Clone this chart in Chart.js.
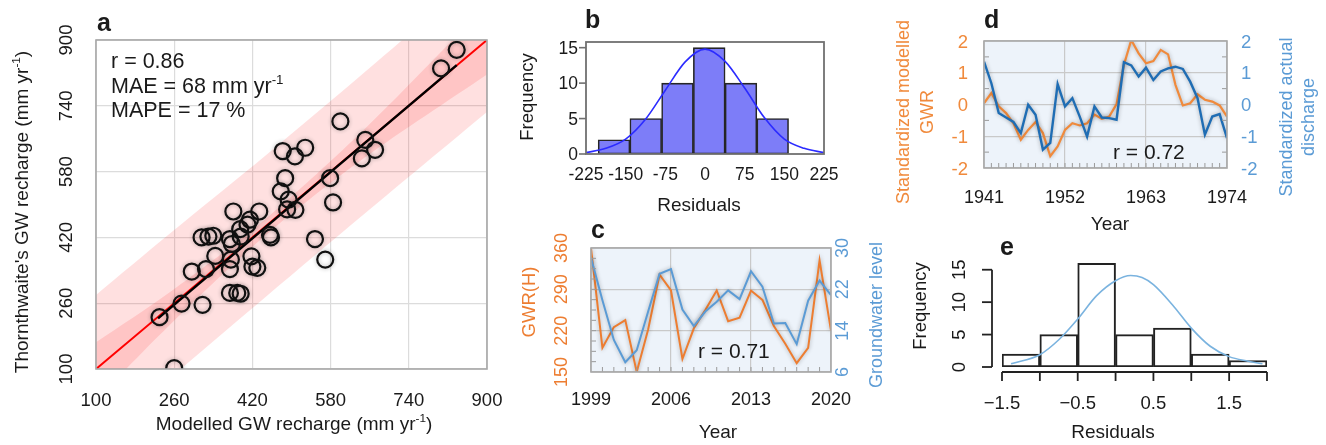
<!DOCTYPE html>
<html>
<head>
<meta charset="utf-8">
<script src="https://cdn.jsdelivr.net/npm/chart.js@4.4.1/dist/chart.umd.min.js"></script>
<style>
  body { margin: 0; background: #fff; }
  #wrap { position: relative; width: 1326px; height: 445px; }
  canvas { position: absolute; left: 0; top: 0; }
</style>
</head>
<body>
<div id="wrap">
  <canvas id="ca" width="1326" height="445"></canvas>
  <canvas id="cb" width="1326" height="445"></canvas>
  <canvas id="cc" width="1326" height="445"></canvas>
  <canvas id="cd" width="1326" height="445"></canvas>
  <canvas id="ce" width="1326" height="445"></canvas>
</div>
<script>
// panel a
const modelled = [838,806,600,651,671,644,528,482,507,487,478,579,585,494,508,491,434,381,415,410,395,396,374,378,456,458,316,330,340,344,296,325,374,376,418,420,430,374,389,396,275,318,230,260,548,569];
const thornthwaite = [876,831,702,657,633,612,638,630,617,564,532,564,505,512,487,488,483,483,463,451,440,422,416,404,426,420,420,422,424,375,337,343,343,366,374,349,346,285,285,283,259,256,226,102,416,366];
const fitX = [227, 838];
const fitY = [223, 839];
const bandX = [100, 250, 450, 650, 900];
const outerHi = [280, 428, 622, 822, 1078];
const outerLo = [-80, 76, 278, 478, 725];
const innerHi = [165, 286, 468, 684, 986];
const innerLo = [25, 206, 428, 614, 816];
const ticksA = [100, 260, 420, 580, 740, 900];

// panel b
const binsB = [-172, -112, -52, 8, 68, 128];
const freqB = [2, 5, 10, 15, 10, 5];
const curveBX = [-225,-187.5,-150,-112.5,-75,-37.5,0,37.5,75,112.5,150,187.5,225];
const curveBY = [0.2,0.8,2.1,4.9,9.0,13.0,14.8,13.1,9.3,5.1,2.1,0.8,0.2];
const ticksBX = [-225, -150, -75, 0, 75, 150, 225];
const ticksBY = [0, 5, 10, 15];

// panel c
const yearsC = [1999,2000,2001,2002,2003,2004,2005,2006,2007,2008,2009,2010,2011,2012,2013,2014,2015,2016,2017,2018,2019,2020];
const gwrH = [360,191,226,238,150,222,315,288,172,224,255,288,236,242,288,272,228,198,165,191,339,220];
const gwLevel = [28.1,19.9,12.2,7.9,10.2,17.7,25.0,25.9,18.1,14.9,17.7,19.6,21.8,20.1,25.5,22.5,15.4,15.5,11.4,19.8,23.7,20.9];
const ticksCX = [1999, 2006, 2013, 2020];
const ticksCL = [150, 220, 290, 360];
const ticksCR = [6, 14, 22, 30];

// panel d
const yearsD = [1941,1942,1943,1944,1945,1946,1947,1948,1949,1950,1951,1952,1953,1954,1955,1956,1957,1958,1959,1960,1961,1962,1963,1964,1965,1966,1967,1968,1969,1970,1971,1972,1973,1974];
const stdGwr = [0.04,0.36,-0.06,-0.27,-0.59,-1.11,-0.80,-0.55,-0.90,-1.63,-1.32,-0.80,-0.59,-0.66,-0.59,-0.32,-0.45,-0.38,0.01,1.25,2.03,1.61,1.30,1.37,1.72,1.58,0.62,-0.03,0.04,0.32,0.15,0.09,-0.03,-0.38];
const stdDischarge = [1.35,0.67,-0.27,-0.41,-0.55,-0.90,-0.01,-0.32,-1.42,-1.21,0.64,-0.06,0.20,-0.38,-1.01,-0.06,-0.41,-0.43,-0.48,1.33,1.23,0.88,1.16,0.77,1.04,1.14,1.19,1.12,0.72,0.20,-0.95,-0.38,-0.30,-1.06];
const ticksDX = [1941, 1952, 1963, 1974];
const ticksDY = [-2, -1, 0, 1, 2];

// panel e
const binsE = [-1.25, -0.75, -0.25, 0.25, 0.75, 1.25, 1.75];
const freqE = [2, 5, 16, 5, 6, 2, 1];
const curveEX = [-1.38,-1.0,-0.75,-0.5,-0.25,0,0.2,0.35,0.5,0.75,1.0,1.25,1.5,1.75,1.94];
const curveEY = [0.5,1.9,4.2,7.4,11.0,13.3,14.1,13.8,12.7,9.6,6.0,3.2,1.6,0.9,0.5];
const ticksEX = [-1.5, -1, -0.5, 0, 0.5, 1, 1.5, 2];
const labelsEX = [-1.5, -0.5, 0.5, 1.5];
const ticksEY = [0, 5, 10, 15];

const FONT = '"Liberation Sans", Arial, sans-serif';
const INK = '#1a1a1a';
const ORANGE = '#ed7d31';
const BLUE = '#5b9bd5';
const UP = -Math.PI / 2;

const pts = (xs, ys) => xs.map((x, i) => ({x: x, y: ys[i]}));

const drawText = (ctx, parts, x, y, o = {}) => {
  const size = o.size || 18;
  const w = o.bold ? 'bold ' : '';
  const segs = typeof parts === 'string' ? [[parts, false]] : parts;
  ctx.save();
  ctx.translate(x, y);
  if (o.rot) ctx.rotate(o.rot);
  ctx.fillStyle = o.color || INK;
  ctx.textBaseline = 'alphabetic';
  ctx.textAlign = 'left';
  let total = 0;
  for (const [t, sup] of segs) {
    ctx.font = w + (sup ? size * 0.62 : size) + 'px ' + FONT;
    total += ctx.measureText(t).width;
  }
  let cx = o.align === 'center' ? -total / 2 : o.align === 'right' ? -total : 0;
  for (const [t, sup] of segs) {
    ctx.font = w + (sup ? size * 0.62 : size) + 'px ' + FONT;
    ctx.fillText(t, cx, sup ? -size * 0.4 : 0);
    cx += ctx.measureText(t).width;
  }
  ctx.restore();
};

const line = (ctx, x1, y1, x2, y2, color, width) => {
  ctx.save();
  ctx.strokeStyle = color;
  ctx.lineWidth = width;
  ctx.beginPath();
  ctx.moveTo(x1, y1);
  ctx.lineTo(x2, y2);
  ctx.stroke();
  ctx.restore();
};

const frame = (ctx, a, color, width) => {
  ctx.save();
  ctx.strokeStyle = color;
  ctx.lineWidth = width;
  ctx.strokeRect(a.left, a.top, a.right - a.left, a.bottom - a.top);
  ctx.restore();
};

const axis = (min, max, tickVals, grid, extra = {}) => Object.assign({
  type: 'linear',
  min: min,
  max: max,
  offset: false,
  ticks: {display: false},
  border: {display: false},
  grid: grid ? {color: grid, lineWidth: 1.2, drawTicks: false} : {display: false, drawTicks: false},
  afterBuildTicks: (s) => { if (tickVals) s.ticks = tickVals.map(v => ({value: v})); },
  afterFit: (s) => { if (s.isHorizontal()) s.height = 0; else s.width = 0; }
}, extra);

const deco = (draw, opts = {}) => ({
  id: 'deco',
  beforeDraw(chart) {
    if (!opts.bg) return;
    const a = chart.chartArea;
    chart.ctx.save();
    chart.ctx.fillStyle = opts.bg;
    chart.ctx.fillRect(a.left, a.top, a.right - a.left, a.bottom - a.top);
    chart.ctx.restore();
  },
  beforeDatasetDraw(chart, args) {
    if (!opts.shadow || !opts.shadow.includes(args.index)) return;
    chart.ctx.save();
    chart.ctx.shadowColor = 'rgba(0,0,0,0.3)';
    chart.ctx.shadowBlur = 4;
  },
  afterDatasetDraw(chart, args) {
    if (opts.shadow && opts.shadow.includes(args.index)) chart.ctx.restore();
  },
  afterDraw(chart) { draw(chart.ctx, chart.chartArea, chart.scales); }
});

const base = (pad) => ({
  responsive: false,
  animation: false,
  layout: {padding: pad},
  plugins: {legend: {display: false}, tooltip: {enabled: false}}
});

const band = (ys, fill, order) => ({
  type: 'line', data: pts(bandX, ys), borderWidth: 0, pointRadius: 0, tension: 0.3,
  fill: fill, backgroundColor: 'rgba(255,0,0,0.12)', order: order
});

// a: scatter
new Chart(document.getElementById('ca'), {
  type: 'scatter',
  data: {
    datasets: [
      {data: pts(modelled, thornthwaite), pointRadius: 8, borderWidth: 2.2, borderColor: '#111', backgroundColor: 'rgba(0,0,0,0)', order: 0},
      {type: 'line', data: pts(fitX, fitY), borderColor: '#000', borderWidth: 2.5, pointRadius: 0, order: 1},
      {type: 'line', data: pts([100, 900], [100, 900]), borderColor: '#ff0000', borderWidth: 2, pointRadius: 0, order: 2},
      band(outerHi, '+1', 3),
      band(outerLo, false, 4),
      band(innerHi, '+1', 5),
      band(innerLo, false, 6)
    ]
  },
  options: Object.assign(base({left: 96, top: 40, right: 839, bottom: 76}), {
    scales: {
      x: axis(100, 900, ticksA, '#dcdcdc'),
      y: axis(100, 900, ticksA, '#dcdcdc')
    }
  }),
  plugins: [deco((ctx, a, s) => {
    frame(ctx, a, '#a8a8a8', 1.6);
    ticksA.forEach(v => {
      drawText(ctx, String(v), s.x.getPixelForValue(v), 406, {size: 18.5, align: 'center'});
      drawText(ctx, String(v), 72, s.y.getPixelForValue(v), {size: 18.5, align: 'center', rot: UP});
    });
    drawText(ctx, [['Modelled GW recharge (mm yr', false], ['-1', true], [')', false]], 294, 430, {size: 19, align: 'center'});
    drawText(ctx, [["Thornthwaite's GW recharge (mm yr", false], ['-1', true], [')', false]], 28, 212, {size: 19, align: 'center', rot: UP});
    drawText(ctx, 'r = 0.86', 111, 68, {size: 21.5});
    drawText(ctx, [['MAE = 68 mm yr', false], ['-1', true]], 111, 93, {size: 21.5});
    drawText(ctx, 'MAPE = 17 %', 111, 117, {size: 21.5});
    drawText(ctx, 'a', 97, 31, {size: 25, bold: true});
  }, {shadow: [0]})]
});

// b: residual histogram
new Chart(document.getElementById('cb'), {
  type: 'bar',
  data: {
    datasets: [
      {type: 'line', data: pts(curveBX, curveBY), borderColor: '#2b2bff', borderWidth: 1.6, pointRadius: 0, cubicInterpolationMode: 'monotone', order: 0},
      {type: 'bar', data: pts(binsB, freqB), backgroundColor: '#7d7df8', borderColor: '#262626', borderWidth: 1.6, borderSkipped: false, barPercentage: 1, categoryPercentage: 1, order: 1}
    ]
  },
  options: Object.assign(base({left: 586, top: 42, right: 502, bottom: 291}), {
    scales: {
      x: axis(-225, 225, ticksBX, null),
      y: axis(0, 15.8, ticksBY, null)
    }
  }),
  plugins: [deco((ctx, a, s) => {
    frame(ctx, a, '#707070', 1.8);
    ticksBY.forEach(v => {
      const y = s.y.getPixelForValue(v);
      line(ctx, a.left - 7, y, a.left, y, '#707070', 1.6);
      drawText(ctx, String(v), a.left - 8, y + 6, {size: 17.5, align: 'right'});
    });
    ticksBX.forEach(v => {
      drawText(ctx, String(v), s.x.getPixelForValue(v), 180, {size: 17.5, align: 'center'});
    });
    drawText(ctx, 'Frequency', 533, 97, {size: 18.5, align: 'center', rot: UP});
    drawText(ctx, 'Residuals', 699, 211, {size: 19, align: 'center'});
    drawText(ctx, 'b', 585, 28, {size: 25, bold: true});
  })]
});

// c: GWR(H) vs groundwater level
new Chart(document.getElementById('cc'), {
  type: 'line',
  data: {
    datasets: [
      {data: pts(yearsC, gwLevel), yAxisID: 'y2', borderColor: BLUE, borderWidth: 2, pointRadius: 0},
      {data: pts(yearsC, gwrH), yAxisID: 'y', borderColor: ORANGE, borderWidth: 2, pointRadius: 0}
    ]
  },
  options: Object.assign(base({left: 591, top: 248, right: 495, bottom: 73}), {
    scales: {
      x: axis(1999, 2020, ticksCX, '#c9c9c9'),
      y: axis(150, 360, ticksCL, '#c9c9c9', {position: 'left'}),
      y2: axis(6, 30, ticksCR, null, {position: 'right'})
    }
  }),
  plugins: [deco((ctx, a, s) => {
    for (let yr = 2000; yr < 2020; yr++) {
      const x = s.x.getPixelForValue(yr);
      line(ctx, x, a.bottom, x, a.bottom - 5, '#9a9a9a', 1);
    }
    for (let v = 8; v < 30; v += 2) {
      const y = s.y2.getPixelForValue(v);
      line(ctx, a.left, y, a.left + 5, y, '#9a9a9a', 1);
    }
    frame(ctx, a, '#a8a8a8', 1.6);
    ticksCL.forEach(v => drawText(ctx, String(v), 567, s.y.getPixelForValue(v), {size: 18, align: 'center', rot: UP, color: ORANGE}));
    ticksCR.forEach(v => drawText(ctx, String(v), 848, s.y2.getPixelForValue(v), {size: 18, align: 'center', rot: UP, color: BLUE}));
    ticksCX.forEach(v => drawText(ctx, String(v), s.x.getPixelForValue(v), 405, {size: 18, align: 'center'}));
    drawText(ctx, 'Year', 718, 438, {size: 19, align: 'center'});
    drawText(ctx, 'GWR(H)', 535, 302, {size: 18.5, align: 'center', rot: UP, color: ORANGE});
    drawText(ctx, 'Groundwater level', 882, 315, {size: 18, align: 'center', rot: UP, color: BLUE});
    drawText(ctx, 'r = 0.71', 698, 358, {size: 21});
    drawText(ctx, 'c', 591, 238, {size: 25, bold: true});
  }, {bg: '#edf3fa', shadow: [0, 1]})]
});

// d: standardized GWR vs discharge
new Chart(document.getElementById('cd'), {
  type: 'line',
  data: {
    datasets: [
      {data: pts(yearsD, stdDischarge), yAxisID: 'y2', borderColor: '#1f6db4', borderWidth: 2.4, pointRadius: 0},
      {data: pts(yearsD, stdGwr), yAxisID: 'y', borderColor: '#f08a3c', borderWidth: 2.2, pointRadius: 0}
    ]
  },
  options: Object.assign(base({left: 984, top: 41, right: 99, bottom: 277}), {
    scales: {
      x: axis(1941, 1974, ticksDX, '#c9c9c9'),
      y: axis(-2, 2, ticksDY, '#c9c9c9', {position: 'left'}),
      y2: axis(-2, 2, ticksDY, null, {position: 'right'})
    }
  }),
  plugins: [deco((ctx, a, s) => {
    for (let yr = 1942; yr < 1974; yr++) {
      const x = s.x.getPixelForValue(yr);
      line(ctx, x, a.bottom, x, a.bottom - 5, '#9a9a9a', 1);
    }
    for (let v = -1.5; v < 2; v += 1) {
      const y = s.y.getPixelForValue(v);
      line(ctx, a.left, y, a.left + 5, y, '#9a9a9a', 1);
      line(ctx, a.right, y, a.right - 5, y, '#9a9a9a', 1);
    }
    frame(ctx, a, '#a8a8a8', 1.6);
    ticksDY.forEach(v => {
      drawText(ctx, String(v), 968, s.y.getPixelForValue(v) + 6.5, {size: 18.5, align: 'right', color: '#f08a3c'});
      drawText(ctx, String(v), 1241, s.y2.getPixelForValue(v) + 6.5, {size: 18.5, color: BLUE});
    });
    ticksDX.forEach(v => drawText(ctx, String(v), s.x.getPixelForValue(v), 203, {size: 18, align: 'center'}));
    drawText(ctx, 'Year', 1110, 230, {size: 19, align: 'center'});
    drawText(ctx, 'Standardized modelled', 909, 112, {size: 18, align: 'center', rot: UP, color: '#f08a3c'});
    drawText(ctx, 'GWR', 933, 112, {size: 18, align: 'center', rot: UP, color: '#f08a3c'});
    drawText(ctx, 'Standardized actual', 1292, 117, {size: 18, align: 'center', rot: UP, color: BLUE});
    drawText(ctx, 'discharge', 1314, 117, {size: 18, align: 'center', rot: UP, color: BLUE});
    drawText(ctx, 'r = 0.72', 1113, 159, {size: 21});
    drawText(ctx, 'd', 984, 28, {size: 25, bold: true});
  }, {bg: '#edf3fa', shadow: [0, 1]})]
});

// e: residual histogram
new Chart(document.getElementById('ce'), {
  type: 'bar',
  data: {
    datasets: [
      {type: 'line', data: pts(curveEX, curveEY), borderColor: '#7ab3df', borderWidth: 1.6, pointRadius: 0, cubicInterpolationMode: 'monotone', order: 0},
      {type: 'bar', data: pts(binsE, freqE), backgroundColor: '#ffffff', borderColor: '#222', borderWidth: 2, borderSkipped: false, barPercentage: 1, categoryPercentage: 1, order: 1}
    ]
  },
  options: Object.assign(base({left: 1002, top: 260, right: 59, bottom: 78}), {
    scales: {
      x: axis(-1.5, 2, ticksEX, null),
      y: axis(0, 16.5, ticksEY, null)
    }
  }),
  plugins: [deco((ctx, a, s) => {
    const ax = 992;
    const ay = 372;
    line(ctx, ax, s.y.getPixelForValue(0), ax, s.y.getPixelForValue(15), '#222', 1.8);
    ticksEY.forEach(v => {
      const y = s.y.getPixelForValue(v);
      line(ctx, ax - 10, y, ax, y, '#222', 1.8);
      drawText(ctx, String(v), 965, y, {size: 18.5, align: 'center', rot: UP});
    });
    line(ctx, s.x.getPixelForValue(-1.5), ay, s.x.getPixelForValue(2), ay, '#222', 1.8);
    ticksEX.forEach(v => {
      const x = s.x.getPixelForValue(v);
      line(ctx, x, ay, x, ay + 9, '#222', 1.8);
    });
    labelsEX.forEach(v => drawText(ctx, String(v).replace('-', '\u2212'), s.x.getPixelForValue(v), 409, {size: 18.5, align: 'center'}));
    drawText(ctx, 'Residuals', 1113, 438, {size: 19, align: 'center'});
    drawText(ctx, 'Frequency', 926, 306, {size: 18.5, align: 'center', rot: UP});
    drawText(ctx, 'e', 1000, 255, {size: 25, bold: true});
  })]
});
</script>
</body>
</html>
